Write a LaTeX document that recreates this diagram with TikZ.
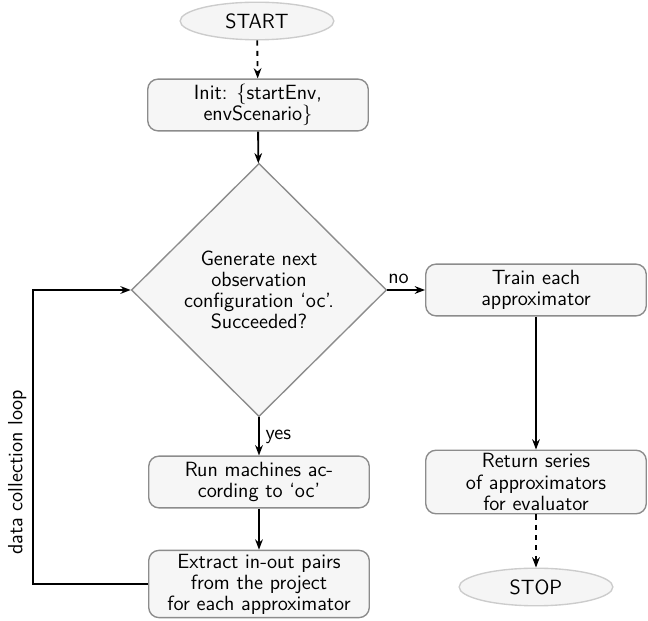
\documentclass[tikz,border=0pt]{standalone}
\usepackage{tikz}
\usetikzlibrary{shapes.geometric,arrows.meta}
\renewcommand{\familydefault}{\sfdefault}
\begin{document}
\begin{tikzpicture}[x=0.0205cm,y=-0.0205cm]
            \tikzstyle{every node}+=[font=\sffamily\fontsize{12}{12.3}\selectfont]
            \tikzstyle{terminal}=[ellipse, draw=gray!40, fill=gray!8, line width=0.8pt, minimum width=3.15cm, minimum height=0.7cm]
            \tikzstyle{stepbox}=[rectangle, rounded corners=6pt, draw=gray!90, fill=gray!7, line width=0.8pt, align=center, inner ysep=2pt, minimum width=4.52cm, minimum height=1.06cm]
            \tikzstyle{decision}=[diamond, draw=gray!90, fill=gray!7, line width=0.8pt, align=center, inner sep=0pt, minimum width=5.23cm, minimum height=5.19cm]
            \tikzstyle{flow}=[line width=1.1pt, -{Stealth[length=6pt,width=4.5pt]}]
            \useasboundingbox (0,0) rectangle (648,621);
                \draw (257,21) node[terminal] (start) {START};
                \draw (258,105) node[stepbox] (init) {Init: \{startEnv,\\envScenario\}};
                \draw (259,290) node[decision] (dec) {Generate next\\observation\\configuration `oc'.\\Succeeded?};
                \draw (259,482) node[stepbox] (run) {Run machines ac-\\cording to `oc'};
                \draw (259,584) node[stepbox] (extract) {Extract in-out pairs\\from the project\\for each approximator};
                \draw (536,290) node[stepbox] (train) {Train each\\approximator};
                \draw (536,482) node[stepbox] (ret) {Return series\\of approximators\\for evaluator};
                \draw (536,587) node[terminal] (stop) {STOP};
                \coordinate (loopbot) at (33,584);
                \coordinate (looptop) at (33,290);
                \draw [flow, dashed] (start) -- (init);
                \draw [flow] (init) -- (dec);
                \draw [flow] (dec) -- node[right] {yes} (run);
                \draw [flow] (run) -- (extract);
                \draw [flow] (dec) -- node[pos=0.3, above] {no} (train);
                \draw [flow] (train) -- (ret);
                \draw [flow, dashed] (ret) -- (stop);
                % loop back to the decision
                \draw [flow] (extract.west) -- (loopbot) -- node[pos=0.38, above, sloped] {data collection loop} (looptop) -- (dec.west);
            \end{tikzpicture}
\end{document}
